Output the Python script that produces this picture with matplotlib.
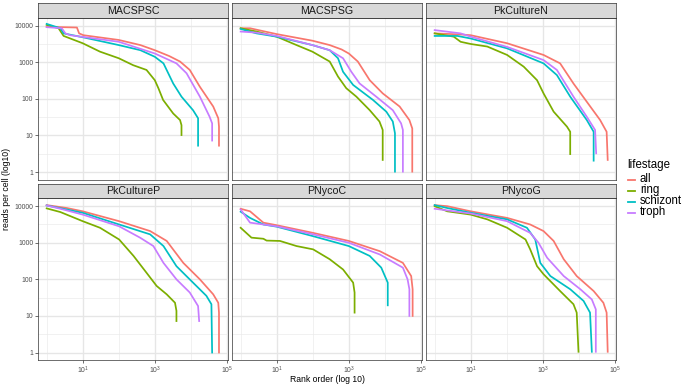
import matplotlib
matplotlib.use('Agg')
import matplotlib.pyplot as plt
from matplotlib.lines import Line2D
import numpy as np

plt.rcParams['font.family'] = ['Liberation Sans', 'DejaVu Sans']
plt.rcParams['mathtext.fontset'] = 'custom'
plt.rcParams['mathtext.rm'] = 'Liberation Sans'
plt.rcParams['mathtext.it'] = 'Liberation Sans:italic'

############   Dados (log10 rank, log10 reads per cell)   ############
samples = ['MACSPSC', 'MACSPSG', 'PkCultureN', 'PkCultureP', 'PNycoC', 'PNycoG']
lifestages = ['all', 'ring', 'schizont', 'troph']
cores = ['#F8766D', '#7CAE00', '#00BFC4', '#C77CFF']

MACSPSC_all = ([0, 0.84, 0.9, 1.02, 2.0, 2.6, 3.0, 3.4, 3.7, 3.97, 4.25, 4.62, 4.76, 4.78, 4.78],
               [3.97, 3.95, 3.79, 3.74, 3.61, 3.47, 3.33, 3.17, 3.02, 2.79, 2.33, 1.79, 1.47, 1.24, 0.72])
MACSPSC_ring = ([0, 0.33, 0.47, 1.0, 1.48, 2.0, 2.4, 2.77, 3.0, 3.1, 3.23, 3.51, 3.7, 3.74, 3.74],
                [4.02, 3.93, 3.72, 3.52, 3.29, 3.11, 2.92, 2.79, 2.51, 2.29, 1.97, 1.60, 1.42, 1.28, 1.01])
MACSPSC_schizont = ([0, 0.38, 0.47, 1.02, 2.0, 2.6, 3.0, 3.24, 3.51, 3.74, 4.06, 4.2, 4.2],
                    [4.05, 3.93, 3.79, 3.68, 3.47, 3.33, 3.15, 2.97, 2.42, 2.06, 1.69, 1.47, 0.72])
MACSPSC_troph = ([0, 0.42, 0.52, 0.65, 2.0, 3.0, 3.6, 3.88, 4.25, 4.52, 4.59, 4.59],
                 [3.96, 3.93, 3.79, 3.74, 3.56, 3.24, 2.97, 2.70, 2.06, 1.51, 1.33, 0.86])

MACSPSG_all = ([0, 0.26, 1.0, 1.99, 2.47, 2.8, 3.0, 3.25, 3.58, 3.94, 4.41, 4.68, 4.76, 4.76],
               [3.93, 3.93, 3.77, 3.59, 3.47, 3.35, 3.24, 3.02, 2.51, 2.15, 1.79, 1.42, 1.19, 0.01])
MACSPSG_ring = ([0, 0.44, 1.0, 1.55, 1.99, 2.47, 2.7, 2.93, 3.21, 3.58, 3.85, 3.94, 3.94],
                [3.93, 3.84, 3.70, 3.47, 3.29, 3.02, 2.61, 2.29, 2.06, 1.69, 1.38, 1.15, 0.33])
MACSPSG_schizont = ([0, 0.44, 1.0, 1.99, 2.47, 2.7, 2.84, 3.12, 3.67, 4.04, 4.22, 4.28, 4.28],
                    [3.91, 3.79, 3.70, 3.47, 3.33, 3.11, 2.74, 2.38, 1.97, 1.65, 1.38, 1.06, 0.01])
MACSPSG_troph = ([0, 0.44, 1.0, 1.99, 2.47, 2.84, 3.07, 3.30, 3.76, 4.22, 4.45, 4.5, 4.5],
                 [3.84, 3.81, 3.72, 3.47, 3.33, 3.11, 2.74, 2.42, 2.06, 1.69, 1.33, 1.15, 0.01])

PkCultureN_all = ([0, 0.72, 1.0, 2.01, 3.02, 3.48, 3.85, 4.22, 4.59, 4.77, 4.80],
                  [3.79, 3.76, 3.74, 3.52, 3.20, 2.97, 2.42, 1.92, 1.42, 1.10, 0.33])
PkCultureN_ring = ([0, 0.53, 0.72, 1.0, 1.46, 2.01, 2.47, 2.84, 3.02, 3.30, 3.67, 3.76, 3.76],
                   [3.79, 3.70, 3.56, 3.50, 3.43, 3.20, 2.88, 2.51, 2.15, 1.65, 1.24, 1.10, 0.49])
PkCultureN_schizont = ([0, 0.63, 1.0, 2.01, 3.02, 3.39, 3.76, 4.22, 4.41, 4.41],
                       [3.72, 3.72, 3.65, 3.38, 2.97, 2.65, 2.06, 1.42, 1.10, 0.31])
PkCultureN_troph = ([0, 0.72, 1.0, 2.01, 3.02, 3.39, 3.85, 4.22, 4.45, 4.48],
                    [3.88, 3.79, 3.70, 3.42, 3.06, 2.79, 2.06, 1.51, 1.15, 0.51])

PkCultureP_all = ([0, 0.56, 1.0, 2.01, 2.87, 3.33, 3.79, 4.25, 4.62, 4.76, 4.78, 4.78],
                  [4.03, 3.95, 3.86, 3.59, 3.32, 3.05, 2.45, 2.00, 1.59, 1.36, 1.09, 0.0])
PkCultureP_ring = ([0, 0.38, 1.0, 1.48, 2.01, 2.41, 2.77, 3.05, 3.33, 3.56, 3.6, 3.6],
                   [3.94, 3.84, 3.59, 3.41, 3.09, 2.64, 2.18, 1.82, 1.59, 1.36, 1.14, 0.86])
PkCultureP_schizont = ([0, 0.56, 1.0, 2.01, 2.87, 3.24, 3.6, 4.06, 4.43, 4.57, 4.59],
                       [4.02, 3.91, 3.82, 3.50, 3.23, 2.91, 2.36, 1.91, 1.55, 1.32, 0.0])
PkCultureP_troph = ([0, 0.38, 1.0, 2.01, 2.59, 2.96, 3.24, 3.6, 3.97, 4.2, 4.23],
                    [4.02, 3.93, 3.77, 3.45, 3.14, 2.91, 2.45, 2.00, 1.64, 1.27, 0.86])

PNycoC_all = ([0, 0.26, 0.63, 1.0, 2.01, 3.0, 3.86, 4.5, 4.73, 4.77, 4.77],
              [3.93, 3.86, 3.55, 3.48, 3.27, 3.05, 2.77, 2.45, 2.09, 1.73, 1.0])
PNycoC_ring = ([0, 0.3, 0.63, 0.72, 1.09, 1.55, 2.01, 2.47, 2.84, 3.12, 3.16, 3.16],
               [3.41, 3.14, 3.11, 3.06, 3.05, 2.91, 2.82, 2.55, 2.27, 1.91, 1.64, 1.09])
PNycoC_schizont = ([0, 0.26, 0.63, 1.0, 2.01, 3.0, 3.58, 3.9, 4.08, 4.08],
                   [3.85, 3.68, 3.50, 3.44, 3.18, 2.91, 2.64, 2.32, 1.91, 1.29])
PNycoC_troph = ([0, 0.26, 0.63, 1.0, 2.01, 3.0, 3.86, 4.5, 4.63, 4.68, 4.68],
                [3.91, 3.55, 3.50, 3.45, 3.23, 3.00, 2.68, 2.32, 2.00, 1.73, 1.0])

PNycoG_all = ([0, 0.35, 1.0, 2.01, 2.65, 3.02, 3.3, 3.58, 3.94, 4.41, 4.68, 4.77, 4.8],
              [4.03, 4.00, 3.86, 3.68, 3.50, 3.32, 3.05, 2.55, 2.09, 1.68, 1.36, 1.09, 0.02])
PNycoG_ring = ([0, 0.35, 1.0, 1.46, 2.01, 2.52, 2.65, 2.84, 3.02, 3.48, 3.85, 3.94, 3.99],
               [4.00, 3.86, 3.77, 3.64, 3.41, 3.09, 2.82, 2.36, 2.14, 1.68, 1.32, 1.09, 0.02])
PNycoG_schizont = ([0, 0.35, 1.0, 2.01, 2.56, 2.79, 2.93, 3.21, 3.76, 4.13, 4.31, 4.36],
                   [4.03, 3.95, 3.82, 3.64, 3.41, 3.09, 2.45, 2.09, 1.73, 1.41, 1.09, 0.02])
PNycoG_troph = ([0, 1.0, 2.01, 2.65, 2.88, 3.12, 3.58, 4.04, 4.36, 4.47, 4.47],
                [3.93, 3.80, 3.59, 3.27, 3.00, 2.59, 2.09, 1.73, 1.45, 1.18, 0.02])

curvas = {
    'MACSPSC': [MACSPSC_all, MACSPSC_ring, MACSPSC_schizont, MACSPSC_troph],
    'MACSPSG': [MACSPSG_all, MACSPSG_ring, MACSPSG_schizont, MACSPSG_troph],
    'PkCultureN': [PkCultureN_all, PkCultureN_ring, PkCultureN_schizont, PkCultureN_troph],
    'PkCultureP': [PkCultureP_all, PkCultureP_ring, PkCultureP_schizont, PkCultureP_troph],
    'PNycoC': [PNycoC_all, PNycoC_ring, PNycoC_schizont, PNycoC_troph],
    'PNycoG': [PNycoG_all, PNycoG_ring, PNycoG_schizont, PNycoG_troph],
}

############   Layout (pixels)   ############
W, H = 685, 385
fig = plt.figure(figsize=(W / 100, H / 100), dpi=100)

def rect(l, t, w, h):
    return [l / W, 1 - (t + h) / H, w / W, h / H]

col_left = [38, 232, 426]
row_top = [17.5, 198]
pw, ph, sh = 190, 162, 14.5

cinza30 = '#4D4D4D'
cinza20 = '#333333'

for i, s in enumerate(samples):
    r, c = divmod(i, 3)
    ax = fig.add_axes(rect(col_left[c], row_top[r], pw, ph))
    ax.set_xscale('log')
    ax.set_yscale('log')
    ax.set_xlim(10 ** -0.24, 10 ** 5.03)
    ax.set_ylim(10 ** -0.205, 10 ** 4.224)

    for v in [0, 2, 4]:
        ax.axvline(10 ** v, color='#EBEBEB', lw=0.5, zorder=0)
    for v in [1, 3, 5]:
        ax.axvline(10 ** v, color='#E6E6E6', lw=1.0, zorder=0)
    for v in [0.5, 1.5, 2.5, 3.5]:
        ax.axhline(10 ** v, color='#EBEBEB', lw=0.5, zorder=0)
    for v in [0, 1, 2, 3, 4]:
        ax.axhline(10 ** v, color='#E6E6E6', lw=1.0, zorder=0)

    for (lx, ly), cor in zip(curvas[s], cores):
        ax.plot(10 ** np.array(lx), 10 ** np.array(ly), color=cor, lw=1.25,
                solid_joinstyle='round', zorder=2)

    ax.set_xticks([10, 1000, 100000])
    ax.set_xticklabels([r'$10^{1}$', r'$10^{3}$', r'$10^{5}$'])
    ax.set_yticks([1, 10, 100, 1000, 10000])
    ax.set_yticklabels(['1', '10', '100', '1000', '10000'])
    ax.minorticks_off()
    ax.tick_params(labelsize=4.9, colors=cinza30, length=2, width=0.5, pad=1.5)
    ax.tick_params(axis='both', color=cinza20)
    if c != 0:
        ax.tick_params(axis='y', left=False, labelleft=False)
    if r != 1:
        ax.tick_params(axis='x', bottom=False, labelbottom=False)
    for sp in ax.spines.values():
        sp.set_color(cinza20)
        sp.set_linewidth(0.5)

    # faixa do titulo
    st = fig.add_axes(rect(col_left[c], row_top[r] - sh, pw, sh))
    st.set_facecolor('#D9D9D9')
    st.set_xticks([])
    st.set_yticks([])
    for sp in st.spines.values():
        sp.set_color(cinza20)
        sp.set_linewidth(0.5)
    st.text(0.5, 0.45, s, ha='center', va='center', fontsize=7.7, color='#1A1A1A',
            transform=st.transAxes)

fig.text(327 / W, 1 - 379.5 / H, 'Rank order (log 10)', ha='center', va='center', fontsize=6.2)
fig.text(7 / W, 1 - 189 / H, 'reads per cell (log10)', ha='center', va='center',
         rotation=90, fontsize=6.2)

# legenda
fig.text(627 / W, 1 - 165 / H, 'lifestage', ha='left', va='center', fontsize=8.3)
for k, (nome, cor) in enumerate(zip(lifestages, cores)):
    y = 1 - (179.5 + 11 * k) / H
    fig.add_artist(Line2D([628 / W, 635 / W], [y, y], color=cor, lw=1.3))
    fig.text(640 / W, y, nome, ha='left', va='center', fontsize=8.3)

fig.savefig('out.png', dpi=100)
